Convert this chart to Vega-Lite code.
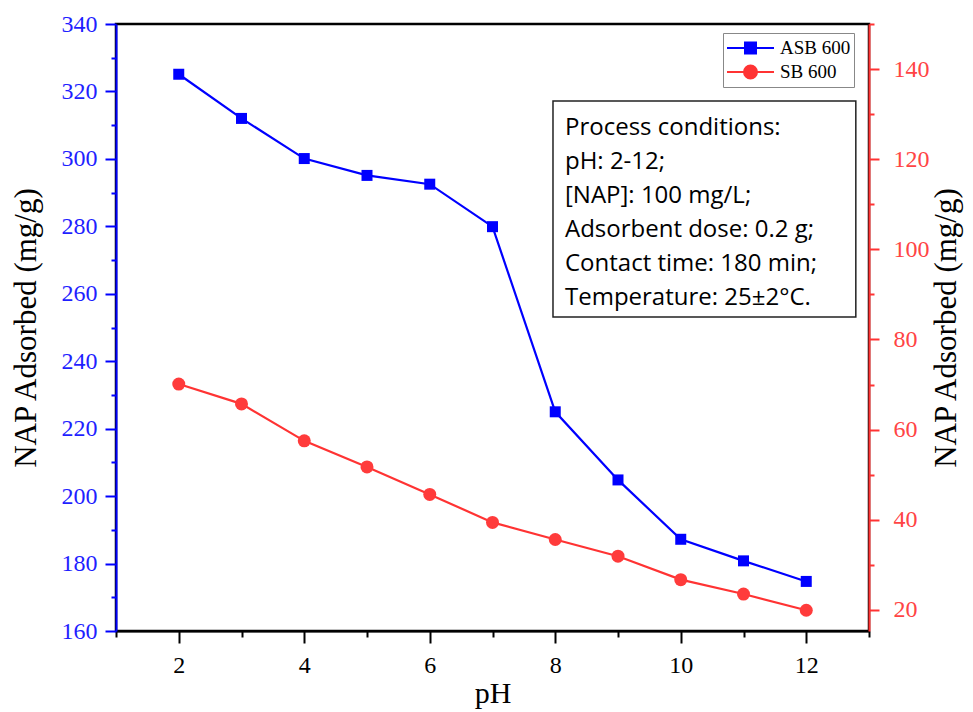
{
  "$schema": "https://vega.github.io/schema/vega-lite/v6.json",
  "width": 753,
  "height": 607,
  "autosize": {"type": "none"},
  "padding": {"left": 116, "top": 24, "right": 104, "bottom": 81},
  "background": "white",
  "config": {"view": {"stroke": "black", "strokeWidth": 2.5}, "font": "Liberation Serif"},
  "datasets": {
    "main": [
      {"pH": 2, "series": "ASB 600", "value": 325.1},
      {"pH": 3, "series": "ASB 600", "value": 312.0},
      {"pH": 4, "series": "ASB 600", "value": 300.1},
      {"pH": 5, "series": "ASB 600", "value": 295.1},
      {"pH": 6, "series": "ASB 600", "value": 292.5},
      {"pH": 7, "series": "ASB 600", "value": 279.9},
      {"pH": 8, "series": "ASB 600", "value": 225.0},
      {"pH": 9, "series": "ASB 600", "value": 204.8},
      {"pH": 10, "series": "ASB 600", "value": 187.2},
      {"pH": 11, "series": "ASB 600", "value": 180.8},
      {"pH": 12, "series": "ASB 600", "value": 174.7},
      {"pH": 2, "series": "SB 600", "value": 70.1},
      {"pH": 3, "series": "SB 600", "value": 65.7},
      {"pH": 4, "series": "SB 600", "value": 57.5},
      {"pH": 5, "series": "SB 600", "value": 51.7},
      {"pH": 6, "series": "SB 600", "value": 45.6},
      {"pH": 7, "series": "SB 600", "value": 39.4},
      {"pH": 8, "series": "SB 600", "value": 35.6},
      {"pH": 9, "series": "SB 600", "value": 31.9},
      {"pH": 10, "series": "SB 600", "value": 26.7},
      {"pH": 11, "series": "SB 600", "value": 23.5},
      {"pH": 12, "series": "SB 600", "value": 19.9}
    ],
    "note": [
      {"lines": ["Process conditions:", "pH: 2-12;", "[NAP]: 100 mg/L;", "Adsorbent dose: 0.2 g;", "Contact time: 180 min;", "Temperature: 25±2°C."]}
    ]
  },
  "layer": [
    {
      "data": {"name": "main"},
      "transform": [{"filter": "datum.series === 'ASB 600'"}],
      "encoding": {
        "x": {
          "field": "pH", "type": "quantitative",
          "scale": {"domain": [1, 13], "nice": false, "zero": false},
          "axis": {
            "title": "pH",
            "format": "d",
            "values": [1, 2, 3, 4, 5, 6, 7, 8, 9, 10, 11, 12, 13],
            "labelExpr": "datum.value % 2 === 0 ? datum.label : ''",
            "tickSize": {"condition": {"test": "datum.value % 2 === 0", "value": 12}, "value": 6},
            "tickWidth": 2, "tickColor": "black",
            "domainColor": "black", "domainWidth": 2,
            "labelFont": "Liberation Serif", "labelFontSize": 24, "labelColor": "black",
            "labelPadding": 10, "labelFlush": false, "labelOverlap": false,
            "titleFont": "Liberation Serif", "titleFontSize": 30, "titleFontWeight": "normal",
            "titleColor": "black", "titlePadding": 1, "grid": false
          }
        },
        "y": {
          "field": "value", "type": "quantitative",
          "scale": {"domain": [160, 340], "nice": false, "zero": false},
          "axis": {
            "title": "NAP Adsorbed (mg/g)",
            "values": [160, 170, 180, 190, 200, 210, 220, 230, 240, 250, 260, 270, 280, 290, 300, 310, 320, 330, 340],
            "labelExpr": "datum.value % 20 === 0 ? datum.label : ''",
            "tickSize": {"condition": {"test": "datum.value % 20 === 0", "value": 11}, "value": 5},
            "tickWidth": 2, "tickColor": "#0000ff",
            "domainColor": "#0000ff", "domainWidth": 2,
            "labelFont": "Liberation Serif", "labelFontSize": 24, "labelColor": "#1f1fff",
            "labelPadding": 8, "labelFlush": false, "labelOverlap": false,
            "titleFont": "Liberation Serif", "titleFontSize": 31, "titleFontWeight": "normal",
            "titleColor": "black", "titlePadding": 19, "grid": false
          }
        }
      },
      "layer": [
        {
          "mark": {"type": "line", "strokeWidth": 2.2},
          "encoding": {
            "color": {
              "field": "series", "type": "nominal",
              "scale": {"domain": ["ASB 600", "SB 600"], "range": ["#0000ff", "#ff3333"]},
              "legend": {
                "title": null, "orient": "none", "legendX": 607, "legendY": 9,
                "labelFont": "Liberation Serif", "labelFontSize": 19, "labelColor": "black",
                "symbolSize": 2209, "symbolStrokeWidth": 2,
                "strokeColor": "#888888", "fillColor": "white", "padding": 3,
                "clipHeight": 24, "rowPadding": 0, "labelOffset": 5,
                "encode": {
                  "symbols": {
                    "update": {
                      "shape": {"signal": "datum.value === 'ASB 600' ? 'M-1,0H1M-0.234,-0.234H0.234V0.234H-0.234Z' : 'M-1,0H1M0.277,0A0.277,0.277,0,1,1,-0.277,0A0.277,0.277,0,1,1,0.277,0Z'"},
                      "fill": {"signal": "datum.value === 'ASB 600' ? '#0000ff' : '#ff3333'"},
                      "stroke": {"signal": "datum.value === 'ASB 600' ? '#0000ff' : '#ff3333'"},
                      "strokeWidth": {"value": 2},
                      "fillOpacity": {"value": 1}
                    }
                  }
                }
              }
            }
          }
        },
        {
          "mark": {"type": "point", "shape": "square", "filled": true, "size": 121, "color": "#0000ff", "opacity": 1}
        }
      ]
    },
    {
      "data": {"name": "main"},
      "transform": [{"filter": "datum.series === 'SB 600'"}],
      "encoding": {
        "x": {"field": "pH", "type": "quantitative"},
        "y": {
          "field": "value", "type": "quantitative",
          "scale": {"domain": [15.3, 150], "nice": false, "zero": false},
          "axis": {
            "orient": "right",
            "title": "NAP Adsorbed (mg/g)",
            "titleAngle": 270,
            "values": [20, 30, 40, 50, 60, 70, 80, 90, 100, 110, 120, 130, 140, 150],
            "labelExpr": "datum.value % 20 === 0 ? datum.label : ''",
            "tickSize": {"condition": {"test": "datum.value % 20 === 0", "value": 10}, "value": 5},
            "tickWidth": 2, "tickColor": "#ff3333",
            "domainColor": "#ff3333", "domainWidth": 2,
            "labelFont": "Liberation Serif", "labelFontSize": 24, "labelColor": "#ff4444",
            "labelPadding": 14, "labelFlush": false, "labelOverlap": false,
            "titleFont": "Liberation Serif", "titleFontSize": 31, "titleFontWeight": "normal",
            "titleColor": "black", "titlePadding": 33, "grid": false
          }
        }
      },
      "layer": [
        {
          "mark": {"type": "line", "strokeWidth": 2.2},
          "encoding": {"color": {"field": "series", "type": "nominal"}}
        },
        {
          "mark": {"type": "point", "shape": "circle", "filled": true, "size": 169, "color": "#ff3b3b", "opacity": 1}
        }
      ]
    },
    {
      "data": {"name": "note"},
      "layer": [
        {
          "mark": {"type": "rect", "fill": "white", "stroke": "#222222", "strokeWidth": 1.5},
          "encoding": {
            "x": {"datum": 7.964, "type": "quantitative"},
            "x2": {"datum": 12.79},
            "y": {"datum": 317.2, "type": "quantitative", "scale": {"domain": [160, 340], "nice": false, "zero": false}, "axis": null},
            "y2": {"datum": 253.1}
          }
        },
        {
          "mark": {"type": "text", "align": "left", "baseline": "alphabetic", "font": "Open Sans", "fontSize": 24, "lineHeight": 34, "color": "black"},
          "encoding": {
            "x": {"datum": 8.155, "type": "quantitative"},
            "y": {"datum": 307.1, "type": "quantitative", "axis": null},
            "text": {"field": "lines"}
          }
        }
      ]
    }
  ],
  "resolve": {"scale": {"y": "independent"}}
}
